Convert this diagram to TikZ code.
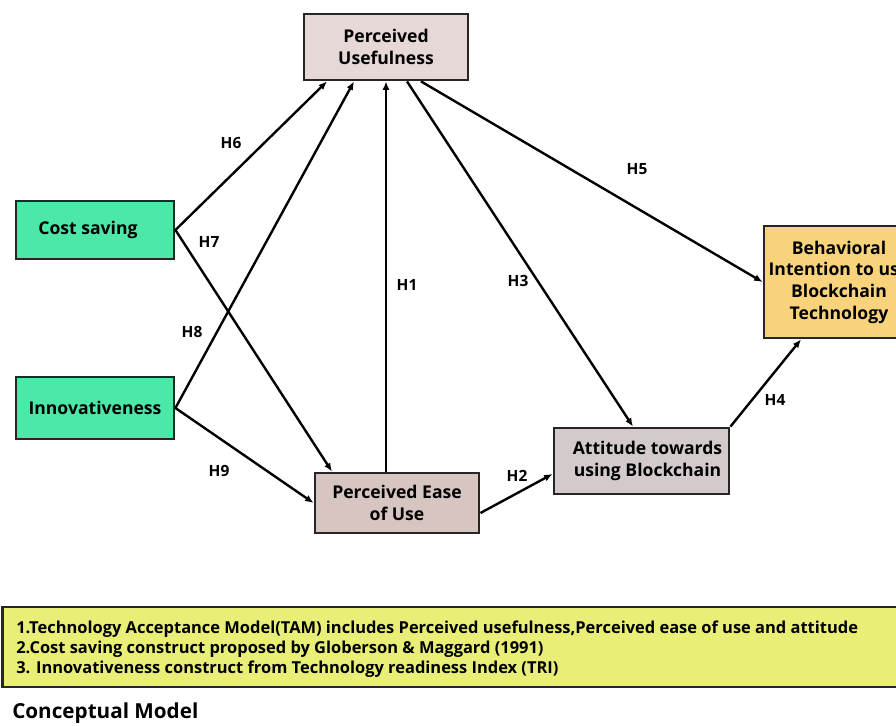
\documentclass[tikz,border=0pt]{standalone}
\usepackage{fontspec}
\setmainfont{Open Sans}
\usetikzlibrary{arrows,arrows.meta,calc}
\usetikzlibrary{positioning}

\begin{document}
\begin{tikzpicture}[x=0.025cm,y=-0.025cm]
%% box shape and colors
\definecolor{usefill}{HTML}{E6D8D7}
\definecolor{easefill}{HTML}{D6C5C1}
\definecolor{attfill}{HTML}{D3CACC}
\definecolor{extfill}{HTML}{4CE8A8}
\definecolor{intfill}{HTML}{F9D37C}
\definecolor{notefill}{HTML}{E9EF76}
\tikzstyle{construct}=[rectangle,draw=black!85,line width=2pt,align=center,inner sep=0pt,font=\fontsize{12.5}{16}\selectfont\bfseries]
\tikzstyle{hlabel}=[font=\fontsize{11}{13}\selectfont\bfseries]
\tikzstyle{path}=[->,>={Latex[length=6pt,width=5pt]},line width=1.7pt]

\useasboundingbox (0,0) rectangle (896,725);
\clip (0,0) rectangle (896,725);
%%%%%%%%%%%%%%%%%%%%%%%%%%%%%%%%%%%%%%%%%%%%%%%%%%%%%%%%%%%%%%%%%%%%%%%%
%external variables
\node[construct,fill=extfill,minimum width=3.95cm,minimum height=1.45cm] (cost) at (95,230) {Cost saving\hspace*{0.35cm}};
\node[construct,fill=extfill,minimum width=3.95cm,minimum height=1.55cm] (innov) at (95,408) {Innovativeness};
%TAM
\node[construct,fill=usefill,minimum width=4.1cm,minimum height=1.65cm] (pu) at (386,47) {Perceived\\Usefulness};
\node[construct,fill=easefill,minimum width=4.1cm,minimum height=1.5cm] (peou) at (397,503) {Perceived Ease\\of Use};
\node[construct,fill=attfill,minimum width=4.375cm,minimum height=1.65cm] (att) at (641.5,461) {\hspace*{0.3cm}Attitude towards\\\hspace*{0.3cm}using Blockchain};
%intention
\node[construct,fill=intfill,minimum width=3.75cm,minimum height=2.8cm,font=\fontsize{12.5}{15.5}\selectfont\bfseries] (bi) at (839,282) {\rule{0pt}{0.35cm}Behavioral\\Intention to use\\Blockchain\\Technology};

%%%%%%%%%%%%%%%%%%%%%%%%%%%%%%%%%%%%%%%%%%%%%%%%%%%%%%%%%%%%%%
%ARROWS
%cost
\draw[path] (cost.east) -- ([xshift=-1.475cm]pu.south);
\draw[path] (cost.east) -- ([xshift=-1.625cm]peou.north);
%innov
\draw[path] (innov.east) -- ([xshift=-0.8cm]pu.south);
\draw[path] (innov.east) -- (peou.west);
%peou
\draw[path] (pu.south |- peou.north) -- (pu.south);
\draw[path] ([yshift=-0.25cm]peou.east) -- ([yshift=-0.325cm]att.west);
%pu
\draw[path] ([xshift=0.525cm]pu.south) -- ([xshift=-0.2125cm]att.north);
\draw[path] ([xshift=0.875cm]pu.south) -- (bi.west);
%att
\draw[path] (att.north east) -- ([xshift=-0.95cm]bi.south);

%%%%%%%%%%%%%%%%%%%%%%%%%%%%%%%%%%%%%%%%%%%%%%%%%%%%%%%%%%%%%%
% HYPOTHESES
\node[hlabel] (h1) at (407,285) {H1};
\node[hlabel] (h2) at (517,476) {H2};
\node[hlabel] (h3) at (518,281) {H3};
\node[hlabel] (h4) at (775,400) {H4};
\node[hlabel] (h5) at (637,169) {H5};
\node[hlabel] (h6) at (231,143) {H6};
\node[hlabel] (h7) at (209,242) {H7};
\node[hlabel] (h8) at (192,332) {H8};
\node[hlabel] (h9) at (219,471) {H9};

%%%%%%%%%%%%%%%%%%%%%%%%%%%%%%%%%%%%%%%%%%%%%%%%%%%%%%%%%%%%%%
% NOTES
\node[rectangle,draw=black!85,line width=2pt,fill=notefill,minimum width=22.7cm,minimum height=2cm] (notebox) at (456.5,647) {};
\node[anchor=west,align=left,inner sep=0pt,font=\fontsize{11.7}{14}\selectfont\bfseries] (notes) at (16,649) {1.Technology Acceptance Model(TAM) includes Perceived usefulness,Perceived ease of use and attitude\\2.Cost saving construct proposed by Globerson \& Maggard (1991)\\3. Innovativeness construct from Technology readiness Index (TRI)};
\node[anchor=west,inner sep=0pt,font=\fontsize{14.7}{18}\selectfont\bfseries] (title) at (12,713) {Conceptual Model};
\end{tikzpicture}
\end{document}
